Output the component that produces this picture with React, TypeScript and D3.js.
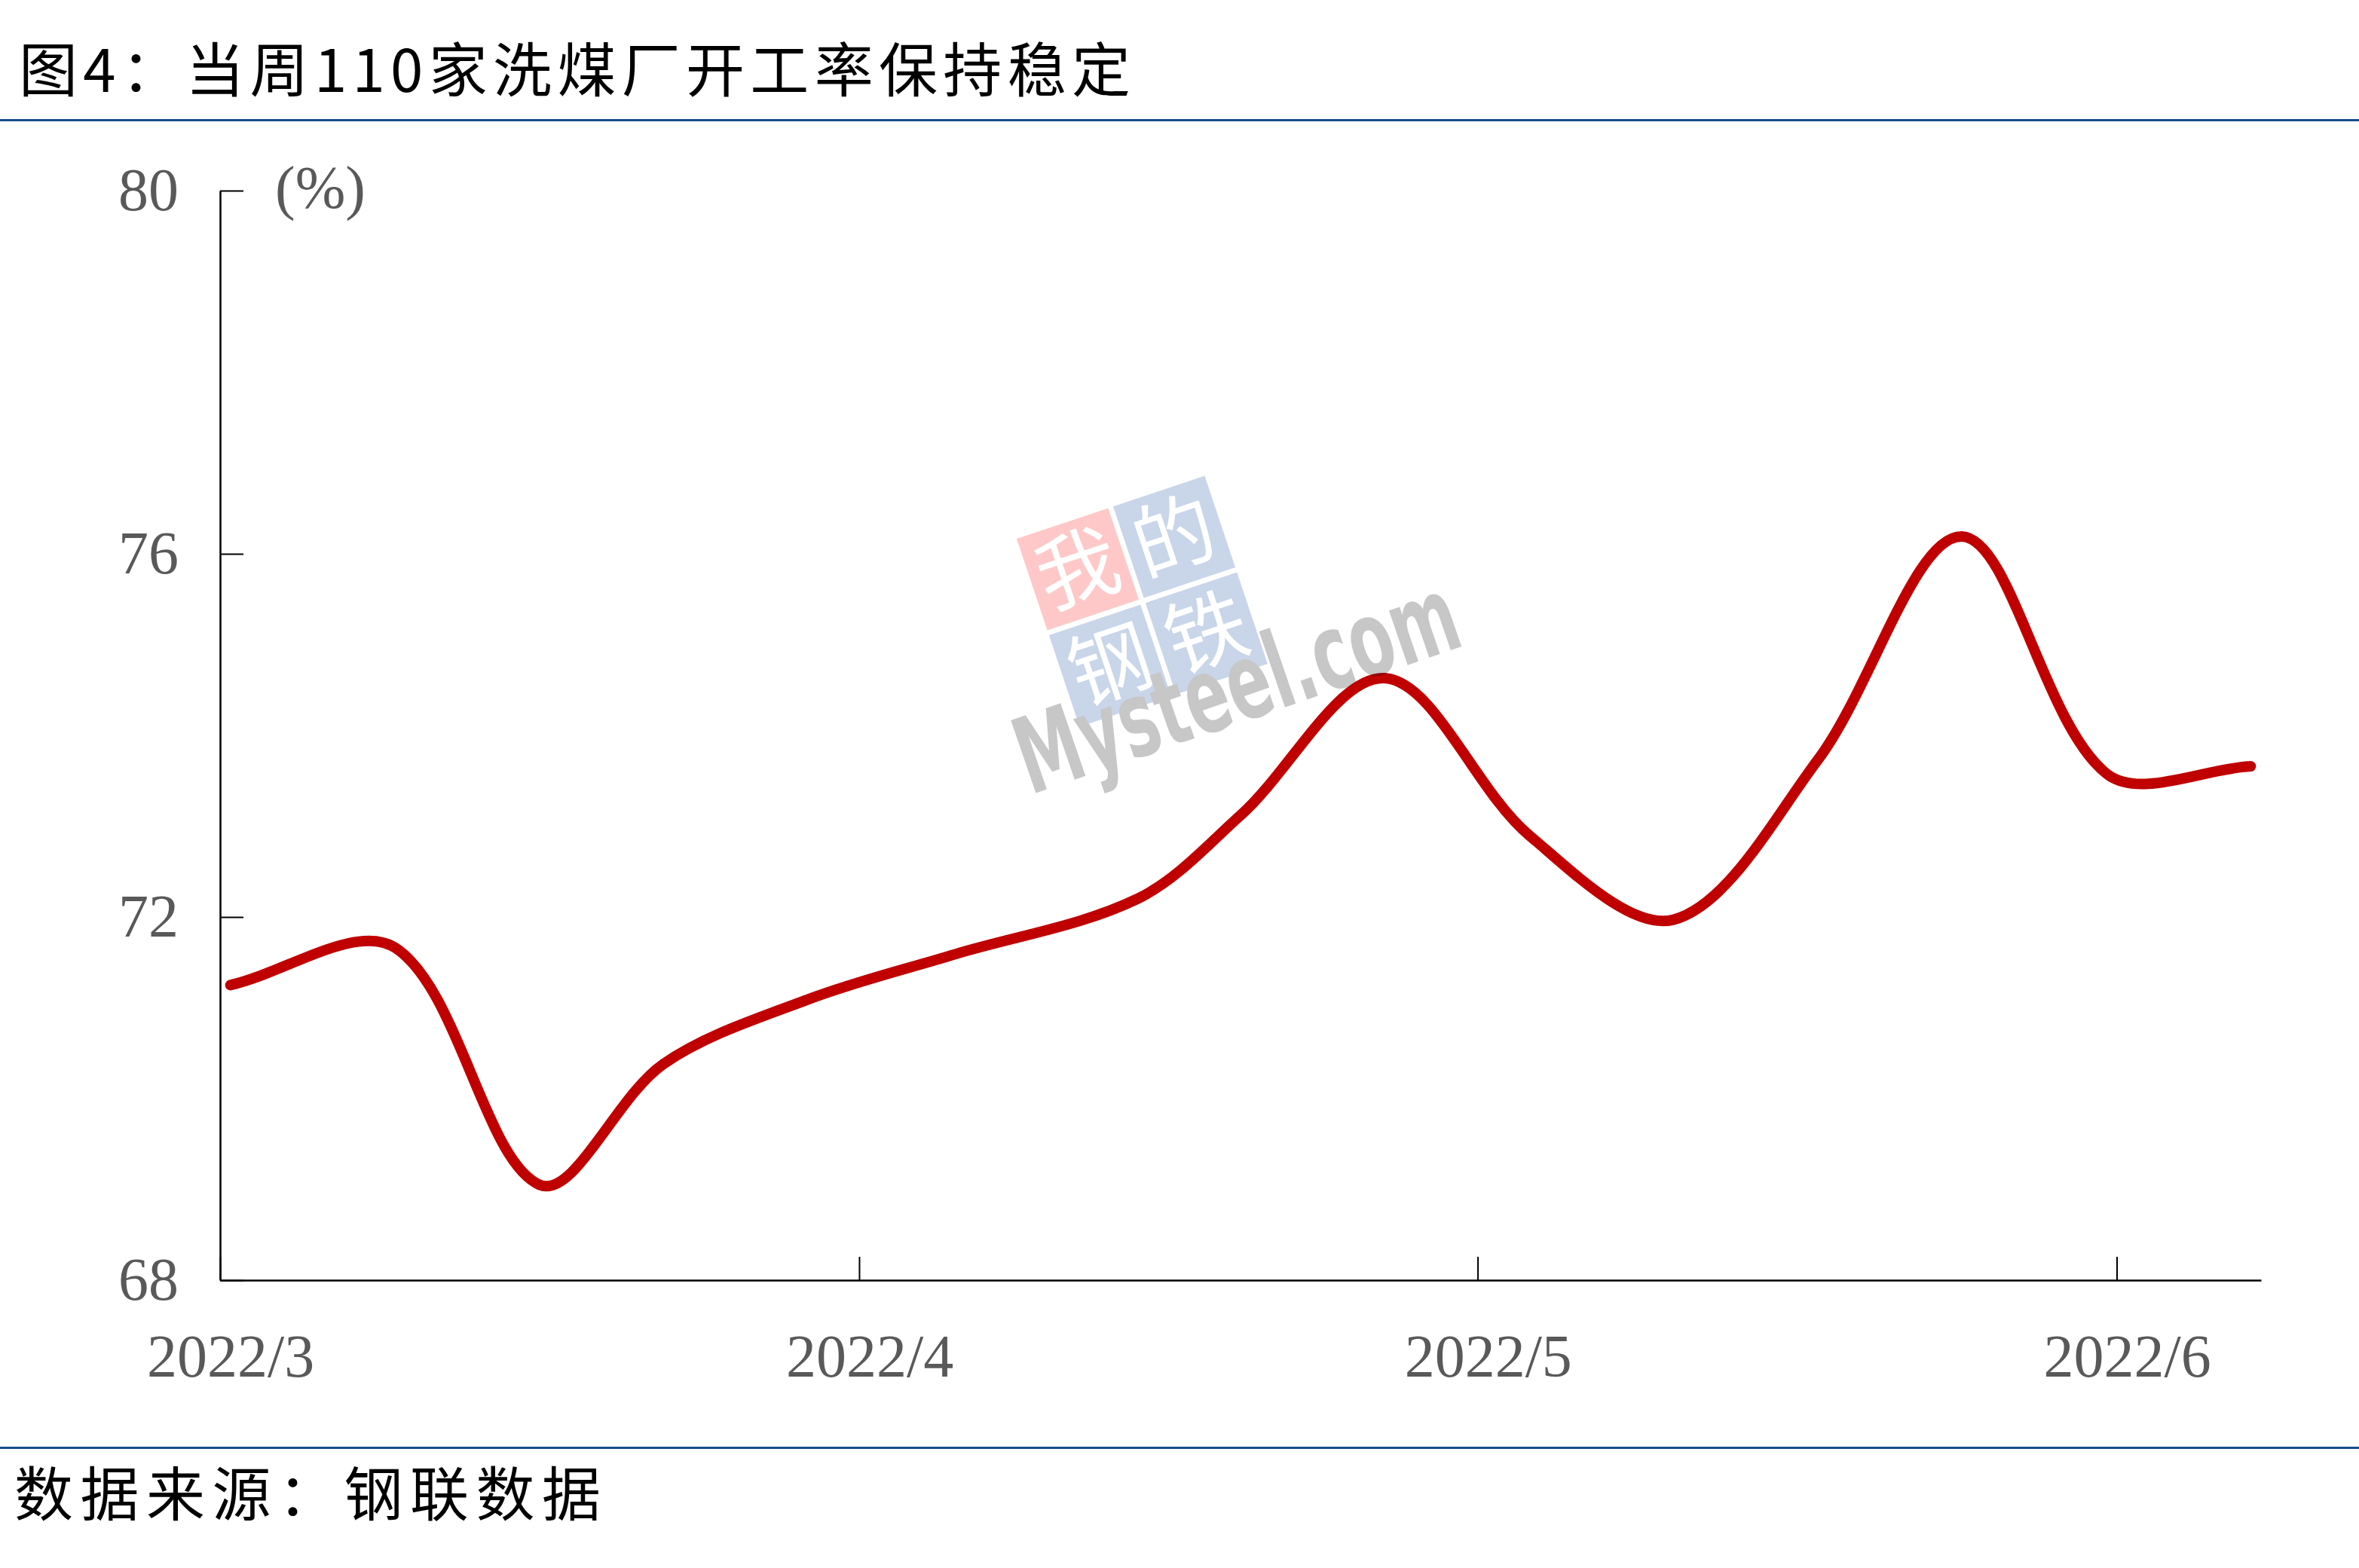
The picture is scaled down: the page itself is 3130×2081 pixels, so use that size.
import React, { useEffect, useRef } from "react";
import * as d3 from "d3";

// operating rate of 110 coal washing plants (%)
const dates = [
  "2022-03-01", "2022-03-09", "2022-03-16", "2022-03-22", "2022-03-29",
  "2022-04-05", "2022-04-14", "2022-04-19", "2022-04-26", "2022-05-03",
  "2022-05-10", "2022-05-17", "2022-05-24", "2022-05-31", "2022-06-07",
];
const rates = [
  71.25, 71.66, 69.05, 70.38, 71.09,
  71.58, 72.2, 73.12, 74.63, 72.9,
  71.97, 73.73, 76.19, 73.58, 73.66,
];
const yTicks = [68, 72, 76, 80];
const monthTicks = ["2022-03-01", "2022-04-01", "2022-05-01", "2022-06-01"];

const title = "图4：当周110家洗煤厂开工率保持稳定";
const source = "数据来源：钢联数据";
const unitLabel = "(%)";
const logoChars = ["我", "的", "钢", "铁"];

const W = 3130;
const H = 2081;

// smoothed path like the office "smooth line": bezier arms weighted by segment length
function smoothPath(pts: [number, number][], k = 1 / 3) {
  const n = pts.length;
  const arms = pts.map((p, i) => {
    const prev = pts[Math.max(i - 1, 0)];
    const next = pts[Math.min(i + 1, n - 1)];
    const tx = next[0] - prev[0];
    const ty = next[1] - prev[1];
    const dl = Math.hypot(p[0] - prev[0], p[1] - prev[1]);
    const dr = Math.hypot(next[0] - p[0], next[1] - p[1]);
    const s = dl + dr || 1;
    return {
      left: [p[0] - (tx * dl * k) / s, p[1] - (ty * dl * k) / s],
      right: [p[0] + (tx * dr * k) / s, p[1] + (ty * dr * k) / s],
    };
  });
  const path = d3.path();
  path.moveTo(pts[0][0], pts[0][1]);
  for (let i = 1; i < n; i++) {
    const c1 = arms[i - 1].right;
    const c2 = arms[i].left;
    path.bezierCurveTo(c1[0], c1[1], c2[0], c2[1], pts[i][0], pts[i][1]);
  }
  return path.toString();
}

const App: React.FC = () => {
  const svgRef = useRef<SVGSVGElement>(null);

  useEffect(() => {
    const svg = d3.select(svgRef.current);
    svg.selectAll("*").remove();

    const parse = d3.utcParse("%Y-%m-%d");
    const data = dates.map((d, i) => ({ date: parse(d)!, value: rates[i] }));

    // date axis: each day is a bucket, points sit in the middle of their day
    const x = d3
      .scaleUtc()
      .domain([parse("2022-03-01")!, parse("2022-06-08")!])
      .range([292, 3000]);
    const y = d3.scaleLinear().domain([68, 80]).range([1699, 253]);
    const xMid = (d: Date) => x(d3.utcHour.offset(d, 12));

    svg.append("rect").attr("width", W).attr("height", H).attr("fill", "#fff");

    // header / footer
    svg
      .append("text")
      .attr("x", 25)
      .attr("y", 122)
      .attr("textLength", 1475)
      .attr("lengthAdjust", "spacing")
      .style("font-family", "'Noto Sans CJK SC'")
      .style("font-size", "78px")
      .attr("fill", "#000")
      .text(title);

    svg.append("rect").attr("x", 0).attr("y", 158).attr("width", W).attr("height", 3).attr("fill", "#1B4A8E");
    svg.append("rect").attr("x", 0).attr("y", 1920).attr("width", W).attr("height", 3).attr("fill", "#1B4A8E");

    svg
      .append("text")
      .attr("x", 19)
      .attr("y", 2012)
      .attr("textLength", 778)
      .attr("lengthAdjust", "spacing")
      .style("font-family", "'Noto Sans CJK SC'")
      .style("font-size", "78px")
      .attr("fill", "#000")
      .text(source);

    // axes
    const xAxis = svg
      .append("g")
      .attr("transform", `translate(0, ${y(68)})`)
      .call(
        d3
          .axisBottom(x)
          .tickValues(monthTicks.map(d => parse(d)!))
          .tickSize(-31)
          .tickSizeOuter(0)
          .tickPadding(71)
          .tickFormat(d => d3.utcFormat("%Y/%-m")(d as Date))
      );

    const yAxis = svg
      .append("g")
      .attr("transform", `translate(${x.range()[0]}, 0)`)
      .call(d3.axisLeft(y).tickValues(yTicks).tickSize(-31).tickSizeOuter(0).tickPadding(55));

    [xAxis, yAxis].forEach(g => {
      g.select(".domain").attr("stroke", "#000").attr("stroke-width", 2.5);
      g.selectAll(".tick line").attr("stroke", "#000").attr("stroke-width", 2);
      g.selectAll(".tick text")
        .attr("fill", "#595959")
        .style("font-family", "'Liberation Serif', 'Times New Roman', serif")
        .style("font-size", "80px");
    });
    // month labels centred on the first day of the month
    xAxis.selectAll(".tick text").attr("x", xMid(parse("2022-03-01")!) - x.range()[0]);

    svg
      .append("text")
      .attr("x", 365)
      .attr("y", 276)
      .attr("fill", "#595959")
      .style("font-family", "'Liberation Serif', 'Times New Roman', serif")
      .style("font-size", "80px")
      .text(unitLabel);

    // series
    const pts = data.map(d => [xMid(d.date), y(d.value)] as [number, number]);
    svg
      .append("path")
      .attr("d", smoothPath(pts))
      .attr("fill", "none")
      .attr("stroke", "#C00000")
      .attr("stroke-width", 14)
      .attr("stroke-linecap", "round")
      .attr("stroke-linejoin", "round");

    // watermark (drawn over the line, semi transparent)
    const wm = svg.append("g").attr("opacity", 0.22);
    const logo = wm.append("g").attr("transform", "translate(1349, 715) rotate(-18.5)");
    const cell = 128;
    const pitch = 135;
    const cellColors = ["#FF0A0A", "#0E449F", "#0E449F", "#0E449F"];
    logoChars.forEach((c, i) => {
      const cx = (i % 2) * pitch;
      const cy = Math.floor(i / 2) * pitch;
      logo.append("rect").attr("x", cx).attr("y", cy).attr("width", cell).attr("height", cell).attr("fill", cellColors[i]);
      logo
        .append("text")
        .attr("x", cx + cell / 2)
        .attr("y", cy + cell / 2 + 38)
        .attr("text-anchor", "middle")
        .attr("fill", "#fff")
        .style("font-family", "'Noto Sans CJK SC'")
        .style("font-weight", 400)
        .style("font-size", "108px")
        .text(c);
    });
    wm.append("text")
      .attr("transform", "translate(1367, 1055) rotate(-19)")
      .attr("textLength", 612)
      .attr("lengthAdjust", "spacingAndGlyphs")
      .attr("fill", "#050505")
      .style("font-family", "'DejaVu Sans', sans-serif")
      .style("font-weight", 700)
      .style("font-size", "140px")
      .text("Mysteel.com");
  }, []);

  return (
    <svg
      ref={svgRef}
      width={W}
      height={H}
      style={{ position: "absolute", left: 0, top: 0, display: "block" }}
    ></svg>
  );
};

export default App;
